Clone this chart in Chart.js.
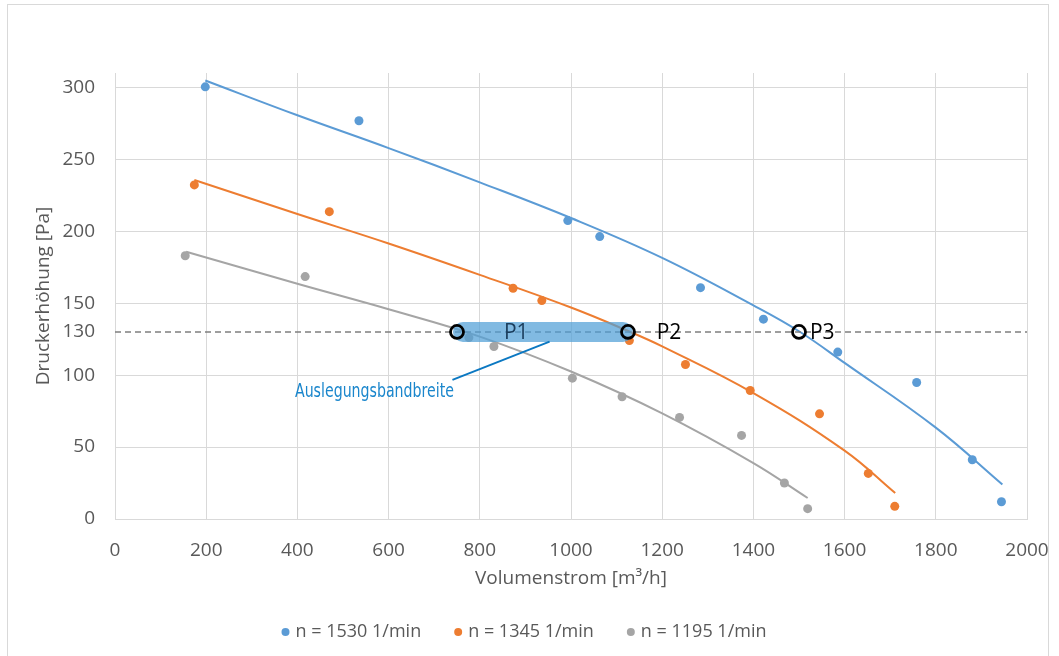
<!DOCTYPE html>
<html>
<head>
<meta charset="utf-8">
<script src="https://cdn.jsdelivr.net/npm/chart.js@4/dist/chart.umd.min.js"></script>
<style>
    html, body { margin: 0; padding: 0; background: #fff; }
    #frame { position: absolute; left: 7px; top: 4px; width: 1040px; height: 660px; border: 1px solid #d9d9d9; }
    #chart { position: absolute; left: 0; top: 0; }
</style>
</head>
<body>
<div id="frame"><canvas id="chart" width="1040" height="651"></canvas></div>
<script>
// Measured points (Volumenstrom [m³/h], Druckerhöhung [Pa])
const seriesNames = ["n = 1530 1/min", "n = 1345 1/min", "n = 1195 1/min"];
const seriesColors = ["#5b9bd5", "#ed7d31", "#a5a5a5"];

const blueX = [198, 535, 993, 1063, 1284, 1422, 1585, 1758, 1880, 1944];
const blueY = [300.4, 276.8, 207.4, 196.3, 160.8, 138.9, 116, 94.9, 41.2, 12.0];
const orangeX = [174, 470, 873, 936, 1128, 1251, 1393, 1545, 1652, 1710];
const orangeY = [232.2, 213.6, 160.4, 151.8, 124, 107.4, 89.3, 73.1, 31.7, 8.8];
const grayX = [154, 417, 776, 831, 1003, 1112, 1238, 1374, 1468, 1519];
const grayY = [183, 168.5, 126.1, 119.9, 97.9, 85, 70.6, 58.1, 25, 7.2];

// Trend lines
const blueTrendX = [198, 400, 600, 800, 1000, 1200, 1400, 1500, 1600, 1800, 1946];
const blueTrendY = [304.8, 280.6, 257.8, 234, 209.2, 181.5, 148.5, 130.5, 108.5, 63.5, 24];
const orangeTrendX = [174, 400, 600, 800, 1000, 1128, 1200, 1400, 1600, 1711];
const orangeTrendY = [235.6, 212, 191.5, 169.7, 147, 130.3, 120, 87.5, 47.5, 18];
const grayTrendX = [156, 400, 600, 800, 1000, 1200, 1400, 1519];
const grayTrendY = [185.8, 163.5, 145.8, 126.8, 102.5, 73.4, 38.9, 14.6];

// Operating points and design band at 130 Pa
const designPressure = 130;
const opLabels = ["P1", "P2", "P3"];
const opLabelColors = ["#1b3d5c", "#000", "#000"];
const opX = [750, 1125, 1500];
const opLabelX = [880, 1215, 1551];
const bandX = [763, 1114];
const leaderX = [740, 953];
const leaderY = [96.7, 123.3];
const noteText = "Auslegungsbandbreite";
const noteX = 569;
const noteY = 85;

const xTicks = [0, 200, 400, 600, 800, 1000, 1200, 1400, 1600, 1800, 2000];
const yTicks = [0, 50, 100, 130, 150, 200, 250, 300];

const textColor = "#595959";
const gridColor = "#d9d9d9";
const fontFamily = "'Open Sans', 'Noto Sans', sans-serif";

function toPoints(xs, ys) {
    return xs.map((x, i) => ({ x: x, y: ys[i] }));
}

function scatterSet(i, xs, ys) {
    return {
        label: seriesNames[i],
        data: toPoints(xs, ys),
        backgroundColor: seriesColors[i],
        borderColor: seriesColors[i],
        borderWidth: 0,
        pointRadius: 4.5,
        pointHoverRadius: 4.5,
        showLine: false,
        order: 5
    };
}

function trendSet(i, xs, ys) {
    return {
        label: "trend " + i,
        data: toPoints(xs, ys),
        borderColor: seriesColors[i],
        borderWidth: 2,
        pointRadius: 0,
        showLine: true,
        tension: 0.4,
        order: 6
    };
}

// Labels P1..P3 and the note text, plus the legend at the bottom
const annotationPlugin = {
    id: "annotations",
    afterDatasetsDraw(chart) {
        const ctx = chart.ctx;
        const xs = chart.scales.x, ys = chart.scales.y;
        ctx.save();
        ctx.font = "21px " + fontFamily;
        ctx.textAlign = "center";
        ctx.textBaseline = "middle";
        opLabels.forEach((label, i) => {
            ctx.fillStyle = opLabelColors[i];
            ctx.fillText(label, xs.getPixelForValue(opLabelX[i]), ys.getPixelForValue(designPressure) + 1);
        });
        ctx.restore();

        ctx.save();
        ctx.font = "19px 'Liberation Sans Narrow', 'DejaVu Sans Condensed', sans-serif";
        ctx.fillStyle = "#1a86cc";
        ctx.textBaseline = "alphabetic";
        const w = ctx.measureText(noteText).width;
        ctx.translate(xs.getPixelForValue(noteX), ys.getPixelForValue(noteY));
        ctx.scale(159 / w, 1);
        ctx.textAlign = "center";
        ctx.fillText(noteText, 0, 0);
        ctx.restore();
    },
    afterDraw(chart) {
        const ctx = chart.ctx;
        ctx.save();
        ctx.font = "18px " + fontFamily;
        ctx.textBaseline = "middle";
        ctx.textAlign = "left";
        const gap = 33;
        const widths = seriesNames.map(n => 14 + ctx.measureText(n).width);
        const total = widths.reduce((a, b) => a + b, 0) + gap * (widths.length - 1);
        let x = chart.width / 2 - total / 2 - 4;
        const y = 627;
        seriesNames.forEach((name, i) => {
            ctx.fillStyle = seriesColors[i];
            ctx.beginPath();
            ctx.arc(x + 4, y, 4, 0, Math.PI * 2);
            ctx.fill();
            ctx.fillStyle = textColor;
            ctx.fillText(name, x + 14, y);
            x += widths[i] + gap;
        });
        ctx.restore();
    }
};

const datasets = [
    scatterSet(0, blueX, blueY),
    scatterSet(1, orangeX, orangeY),
    scatterSet(2, grayX, grayY),
    trendSet(0, blueTrendX, blueTrendY),
    trendSet(1, orangeTrendX, orangeTrendY),
    trendSet(2, grayTrendX, grayTrendY),
    {
        label: "130 Pa",
        data: toPoints([0, 2000], [designPressure, designPressure]),
        borderColor: "#7f7f7f",
        borderWidth: 1.5,
        borderDash: [6, 4],
        pointRadius: 0,
        showLine: true,
        order: 4
    },
    {
        label: "band",
        data: toPoints(bandX, [designPressure, designPressure]),
        borderColor: "rgba(80, 160, 215, 0.72)",
        borderWidth: 20,
        borderCapStyle: "round",
        pointRadius: 0,
        showLine: true,
        order: 3
    },
    {
        label: "leader",
        data: toPoints(leaderX, leaderY),
        borderColor: "#0b78c2",
        borderWidth: 2,
        pointRadius: 0,
        showLine: true,
        order: 2
    },
    {
        label: "points",
        data: toPoints(opX, opX.map(() => designPressure)),
        borderColor: "#000",
        backgroundColor: "rgba(0,0,0,0)",
        borderWidth: 2.8,
        pointRadius: 6.5,
        showLine: false,
        order: 1
    }
];

const ctx = document.getElementById("chart").getContext("2d");
const myChart = new Chart(ctx, {
    type: "scatter",
    data: { datasets: datasets },
    options: {
        responsive: false,
        animation: false,
        devicePixelRatio: 1,
        layout: { padding: { left: 0, top: 68, right: 0, bottom: 47 } },
        plugins: {
            legend: { display: false },
            tooltip: { enabled: false }
        },
        scales: {
            x: {
                type: "linear",
                min: 0,
                max: 2000,
                afterBuildTicks: scale => { scale.ticks = xTicks.map(v => ({ value: v })); },
                afterFit: scale => {
                    scale.height = 90;
                    scale.paddingLeft = 0;
                    scale.paddingRight = 21;
                },
                grid: { color: gridColor, drawTicks: false },
                border: { color: gridColor },
                ticks: {
                    color: textColor,
                    font: { family: fontFamily, size: 19 },
                    padding: 20,
                    maxRotation: 0,
                    callback: v => String(v)
                },
                title: {
                    display: true,
                    text: "Volumenstrom [m³/h]",
                    color: textColor,
                    font: { family: fontFamily, size: 19 },
                    padding: { top: 0, bottom: 19 }
                }
            },
            y: {
                type: "linear",
                min: 0,
                max: 310,
                afterBuildTicks: scale => { scale.ticks = yTicks.map(v => ({ value: v })); },
                afterFit: scale => { scale.width = 107; },
                grid: {
                    color: c => (c.tick && c.tick.value === designPressure) ? "rgba(0,0,0,0)" : gridColor,
                    drawTicks: false
                },
                border: { color: gridColor },
                ticks: {
                    color: textColor,
                    font: { family: fontFamily, size: 19 },
                    padding: 20,
                    callback: v => String(v)
                },
                title: {
                    display: true,
                    text: "Druckerhöhung [Pa]",
                    color: textColor,
                    font: { family: fontFamily, size: 19 },
                    padding: { top: 24, bottom: 0 }
                }
            }
        }
    },
    plugins: [annotationPlugin]
});
</script>
</body>
</html>
